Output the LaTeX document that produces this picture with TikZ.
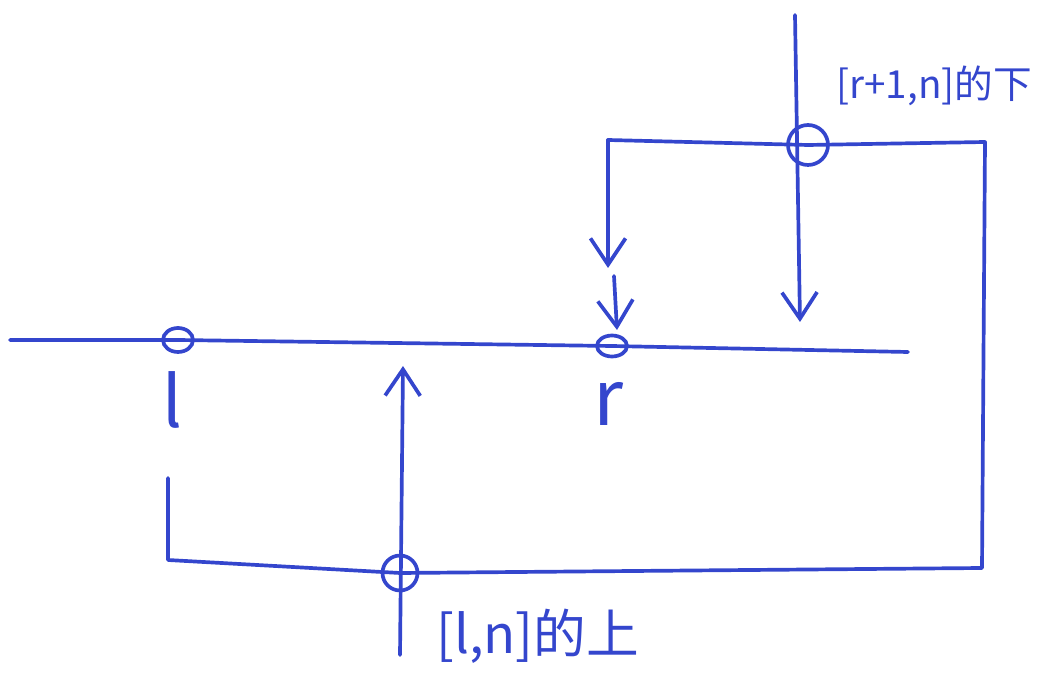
\documentclass[tikz,border=0pt]{standalone}
\usepackage{fontspec}
\setmainfont{Noto Sans CJK SC}
\usetikzlibrary{arrows.meta,shapes.geometric}
\definecolor{pen}{RGB}{52,70,205}
\begin{document}
\begin{tikzpicture}[x=0.02cm,y=-0.02cm,
  ink/.style={draw=pen,line width=2.1pt,line cap=round,line join=round},
  arr/.style={ink,-{Straight Barb[length=15pt,width=20pt,line width=2.1pt]}},
  ring/.style={draw=pen,line width=2.1pt,inner sep=0pt},
  lbl/.style={text=pen,inner sep=0pt}]
\useasboundingbox (0,0) rectangle (1048,678);
% nodes
\coordinate (A) at (10,340);
\coordinate (B) at (908,352);
\node[ring,ellipse,minimum width=0.6cm,minimum height=0.48cm] (Lc) at (178,340) {};
\node[ring,ellipse,minimum width=0.6cm,minimum height=0.42cm] (Rc) at (612,346) {};
\node[ring,circle,minimum size=0.8cm] (Tc) at (808,145) {};
\node[ring,circle,minimum size=0.7cm] (Bc) at (400,573) {};
\node[lbl,font=\fontsize{40}{40}\selectfont] (ll) at (172,400) {l};
\node[lbl,font=\fontsize{44}{44}\selectfont] (rl) at (608,404) {r};
\node[lbl,font=\fontsize{22}{22}\selectfont,anchor=west] (tl) at (836,86) {[r+1,n]的下};
\node[lbl,font=\fontsize{30}{30}\selectfont,anchor=west] (bl) at (436,636) {[l,n]的上};
% corners
\coordinate (P1) at (168,478);
\coordinate (P2) at (168,560);
\coordinate (P3) at (982,568);
\coordinate (P4) at (985,142);
\coordinate (P5) at (608,140);
\coordinate (P6) at (608,268);
\coordinate (Q1) at (614,276);
\coordinate (Q2) at (617,330);
\coordinate (T1) at (795,15);
\coordinate (T2) at (800,322);
\coordinate (U1) at (400,655);
\coordinate (U2) at (403,366);
% main line
\draw[ink] (A) -- (Lc.center) -- (Rc.center) -- (B);
% loop
\draw[ink] (P1) -- (P2) -- (Bc.center) -- (P3) -- (P4) -- (Tc.center) -- (P5);
\draw[arr] (P5) -- (P6);
\draw[arr] (Q1) -- (Q2);
\draw[arr] (T1) -- (T2);
\draw[arr] (U1) -- (U2);
\end{tikzpicture}
\end{document}
